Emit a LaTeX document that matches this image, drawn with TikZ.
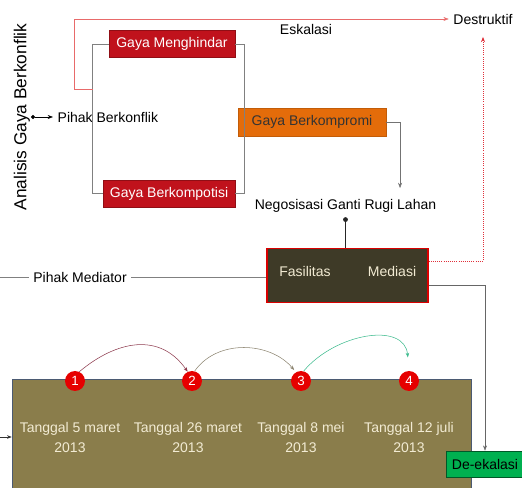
\documentclass[tikz,border=0pt]{standalone}
\usepackage{fontspec}
\setmainfont{Liberation Sans}
\usetikzlibrary{positioning,arrows.meta}

\definecolor{merahgaya}{HTML}{C0121C}
\definecolor{merahgaris}{HTML}{E86A6A}
\definecolor{merahtitik}{HTML}{E0303A}
\definecolor{oranye}{HTML}{E46C0A}
\definecolor{coklattua}{HTML}{3E3A27}
\definecolor{zaitun}{HTML}{8A7D4B}
\definecolor{krem}{HTML}{F2EBD3}
\definecolor{hijau}{HTML}{00B050}
\definecolor{merahbulat}{HTML}{E60000}
\definecolor{marun}{HTML}{8E3B4E}
\definecolor{abucoklat}{HTML}{8C8470}
\definecolor{tosca}{HTML}{3DBB8E}
\definecolor{birukelabu}{HTML}{4B5A72}

\begin{document}
\begin{tikzpicture}[x=0.75pt, y=-0.75pt,
        font=\fontsize{10.5}{15}\selectfont,
        garis/.style={draw=black!50},
        gaya/.style={fill=merahgaya, draw=merahgaya!75!black, text=white,
            minimum height=20.25pt, inner sep=2pt},
        bulat/.style={circle, fill=merahbulat, text=white, minimum size=15pt,
            inner sep=0pt, font=\fontsize{10}{12}\selectfont},
        tanggal/.style={text=krem, align=center}]

    \clip (0,0) rectangle (522,488);

    % --- PIHAK BERKONFLIK ---
    \node[rotate=90, font=\fontsize{13}{15}\selectfont] (analisis) at (22,117) {Analisis Gaya Berkonflik};
    \coordinate (titik) at (31,117);
    \node[anchor=west] (pihak) at (53,117) {Pihak Berkonflik};
    \draw[{Circle[length=3pt]}-{Stealth[length=4pt]}] (titik) -- (pihak.west);

    % --- GAYA ---
    \node[gaya, minimum width=94.5pt] (menghindar) at (172,44) {Gaya Menghindar};
    \node[gaya, minimum width=99pt] (kompetisi) at (169,193.5) {Gaya Berkompotisi};
    \node[gaya, fill=oranye, draw=oranye!85!black, text=black!80,
        minimum width=111pt, minimum height=21pt] (kompromi) at (312,122) {Gaya Berkompromi};

    % kurung abu-abu
    \draw[garis] (menghindar.west) -- ++(-16,0) |- (kompetisi.west);
    \draw[garis] (menghindar.east) -- ++(9,0) |- (kompetisi.east);

    % --- ESKALASI ---
    \coordinate (cabang) at (93,89);
    \node (destruktif) at (483,19) {Destruktif};
    \node (eskalasi) at (306,29) {Eskalasi};
    \draw[merahgaris, -{Stealth[length=4pt]}] (cabang) -- ++(-19,0) |- (destruktif.west);

    % --- NEGOSIASI ---
    \node (nego) at (345.5,206) {Negosisasi Ganti Rugi Lahan};
    \draw[black!55, -{Stealth[length=4pt]}] (kompromi.east) -| ([xshift=40.9pt, yshift=5pt]nego.north);

    \node[fill=coklattua, draw=red!85!black, line width=1pt,
        minimum width=120.75pt, minimum height=40.5pt] (kotakmediasi) at (347.5,275.5) {};
    \node[text=krem] (fasilitas) at (305,271) {Fasilitas};
    \node[text=krem] (mediasi) at (392,271) {Mediasi};
    \draw[black!85, {Circle[length=3.5pt]}-] (nego.south) -- (nego.south |- kotakmediasi.north);

    % pihak mediator
    \coordinate (tepi) at (0,277);
    \node (mediator) at (80,277) {Pihak Mediator};
    \draw[garis] (tepi) -- (mediator.west);
    \draw[garis] (mediator.east) -- (mediator.east -| kotakmediasi.west);

    % --- LINIMASA ---
    \node[fill=zaitun, draw=birukelabu, minimum width=344.25pt,
        minimum height=90.75pt] (linimasa) at (241.5,439.5) {};
    \coordinate (masuk) at (0,437);
    \draw[black!80, -{Stealth[length=3.5pt]}] (masuk) -- (masuk -| linimasa.west);

    \foreach \n/\x/\xt/\tgl in {1/75/70/Tanggal 5 maret, 2/192/188/Tanggal 26 maret,
                                3/301/301/Tanggal 8 mei, 4/409/409/Tanggal 12 juli} {
        \node[bulat] (b\n) at (\x,381) {\n};
        \node[tanggal] (t\n) at (\xt,437.5) {\tgl\\2013};
    }

    \draw[marun, -{Stealth[length=3.5pt]}] (b1.65) to[out=40, in=125, looseness=1.15] (b2.115);
    \draw[abucoklat, -{Stealth[length=3.5pt]}, shorten >=2pt] (b2.75) to[out=55, in=130] (b3.120);
    \draw[tosca, -{Stealth[length=3.5pt]}, shorten >=10pt] (b3.75) to[out=50, in=95, looseness=1.2] (b4.north);

    % --- DE-ESKALASI ---
    \node[fill=hijau, draw=hijau!50!black, minimum width=58.5pt, minimum height=19.5pt,
        inner sep=2pt] (deeskalasi) at (485,464) {De-ekalasi};
    \draw[black!60, -{Stealth[length=4pt]}] (kotakmediasi.-7) -| (deeskalasi.north);
    \draw[merahtitik, densely dotted, semithick, -{Stealth[length=4pt]}] (kotakmediasi.10) -| ([yshift=-6pt]destruktif.south);

\end{tikzpicture}
\end{document}
